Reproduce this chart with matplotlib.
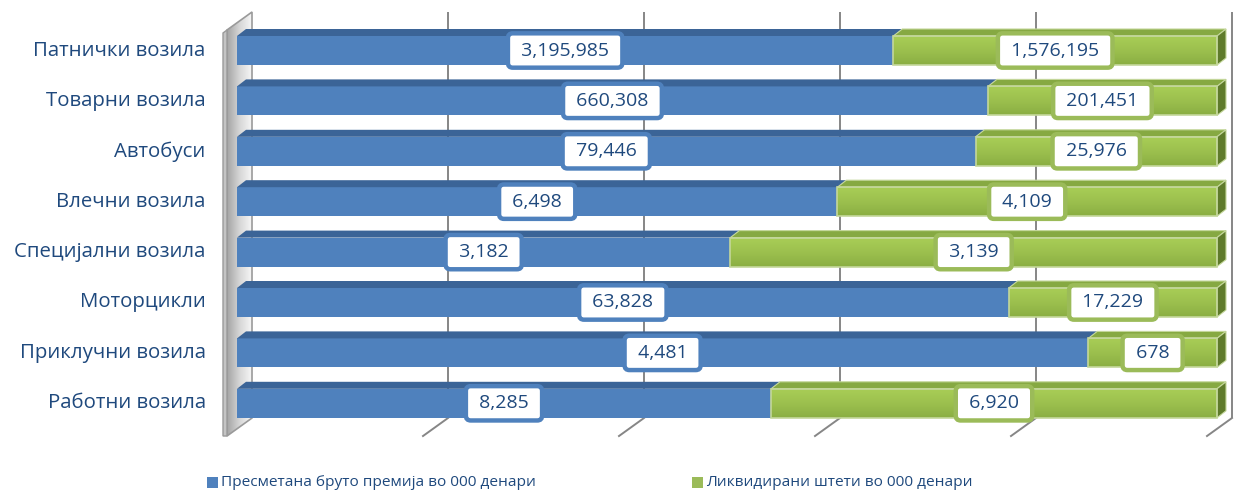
import numpy as np
import matplotlib.pyplot as plt
from matplotlib.patches import Polygon, Rectangle
from matplotlib.colors import LinearSegmentedColormap

plt.rcParams['font.family'] = ['Open Sans', 'DejaVu Sans']

# --- data -------------------------------------------------------------
categories = ['Патнички возила', 'Товарни возила', 'Автобуси', 'Влечни возила',
              'Специјални возила', 'Моторцикли', 'Приклучни возила', 'Работни возила']
premium = [3195985, 660308, 79446, 6498, 3182, 63828, 4481, 8285]
claims = [1576195, 201451, 25976, 4109, 3139, 17229, 678, 6920]
series_names = ['Пресметана бруто премија во 000 денари',
                'Ликвидирани штети во 000 денари']
grid_ticks = [0, 20, 40, 60, 80, 100]

# --- style ------------------------------------------------------------
BLUE = '#4F81BD'
BLUE_TOP = '#3B6497'
GREEN = '#9BBB59'
GREEN_TOP = '#86A942'
GREEN_END = '#5F7B2B'
GREEN_EDGE = '#C4D79B'
TEXT = '#1F497D'
GRID = '#868686'

W, H = 1234, 492
fig = plt.figure(figsize=(W / 100, H / 100), dpi=100)
ax = fig.add_axes([237 / W, 0, 980 / W, 1])
ax.set_xlim(0, 100)
ax.set_ylim(8.76, -1.002)
ax.axis('off')


def add(patch):
    patch.set_clip_on(False)
    ax.add_patch(patch)
    return patch


PX = 100 / 980          # percent per pixel
PY = 1 / 50.4           # rows per pixel

# perspective offsets
bar_dx, bar_dy = 9 * PX, 7 * PY
back_dx = 15 * PX
front_dx = -10 * PX
back_top = -0.764
back_bottom = 7.292
front_bottom = back_bottom + 18 * PY
front_top = back_top + 18 * PY
half_h = 14.5 * PY

# --- side wall --------------------------------------------------------
wall = add(Polygon([(front_dx, front_top), (back_dx, back_top),
                    (back_dx, back_bottom), (front_dx, front_bottom)],
                   closed=True, fc='none', ec='#9A9A9A', lw=1.2, zorder=2))
grad = np.linspace(0, 1, 64).reshape(1, -1)
im = ax.imshow(grad, cmap=LinearSegmentedColormap.from_list(
    'wall', ['#A4A4A4', '#D6D6D6', '#F6F6F6']),
    extent=(front_dx, back_dx, back_bottom + 1, back_top - 1),
    aspect='auto', zorder=1, interpolation='bilinear')
im.set_clip_path(wall)
im.set_clip_box(fig.bbox)
# wall thickness
add(Polygon([(front_dx - 4 * PX, front_top + 3 * PY), (front_dx, front_top),
             (front_dx, front_bottom), (front_dx - 4 * PX, front_bottom)],
            closed=True, fc='#C4C4C4', ec='#9A9A9A', lw=1, zorder=2))

# --- grid on back wall and floor ---------------------------------------
for t in grid_ticks[1:]:
    ax.plot([t + back_dx, t + back_dx], [back_top, back_bottom],
            color=GRID, lw=1.4, zorder=1, solid_capstyle='butt', clip_on=False)
    ax.plot([t + back_dx, t + front_dx], [back_bottom, front_bottom],
            color=GRID, lw=1.4, zorder=1, clip_on=False)

# --- 3D stacked bars ---------------------------------------------------
green_grad = np.linspace(0, 1, 64).reshape(-1, 1)
green_cmap = LinearSegmentedColormap.from_list('g', ['#A8CD56', '#9CC04E', '#8AAE43'])

for i, (p, c) in enumerate(zip(premium, claims)):
    total = p + c
    share = p / total * 100
    top = i - half_h
    bot = i + half_h

    # blue segment
    add(Rectangle((0, top), share, 2 * half_h, fc=BLUE, ec='none', zorder=3))
    add(Polygon([(0, top), (bar_dx, top - bar_dy),
                 (share + bar_dx, top - bar_dy), (share, top)],
                closed=True, fc=BLUE_TOP, ec='none', zorder=3))

    # green segment
    ax.imshow(green_grad, cmap=green_cmap, extent=(share, 100, bot, top),
              aspect='auto', zorder=4, interpolation='bilinear')
    add(Rectangle((share, top), 100 - share, 2 * half_h, fc='none',
                  ec=GREEN_EDGE, lw=1.2, zorder=4.5))
    add(Polygon([(share, top), (share + bar_dx, top - bar_dy),
                 (100 + bar_dx, top - bar_dy), (100, top)],
                closed=True, fc=GREEN_TOP, ec=GREEN_EDGE, lw=0.8, zorder=4))
    add(Polygon([(100, top), (100 + bar_dx, top - bar_dy),
                 (100 + bar_dx, bot - bar_dy), (100, bot)],
                closed=True, fc=GREEN_END, ec=GREEN_EDGE, lw=0.8, zorder=4))

    # value labels
    ax.text(share / 2, i, f' {p:,} ', ha='center', va='center', fontsize=14,
            color=TEXT, zorder=6,
            bbox=dict(boxstyle='round,pad=0.42,rounding_size=0.25', fc='white',
                      ec=BLUE, lw=3.2))
    ax.text((share + 100) / 2, i, f' {c:,} ', ha='center', va='center', fontsize=14,
            color=TEXT, zorder=6,
            bbox=dict(boxstyle='round,pad=0.42,rounding_size=0.25', fc='white',
                      ec=GREEN, lw=3.2))

    # category label
    ax.text(-3.2, i, categories[i], ha='right', va='center', fontsize=14.7,
            color=TEXT, zorder=6)

ax.set_xlim(0, 100)
ax.set_ylim(8.76, -1.002)

# --- legend -------------------------------------------------------------
for x0, color, name in [(207, BLUE, series_names[0]), (692, GREEN, series_names[1])]:
    fig.patches.append(Rectangle((x0 / W, (H - 488) / H), 11 / W, 11 / H,
                                 transform=fig.transFigure, fc=color, ec='none'))
    fig.text((x0 + 14) / W, (H - 482) / H, name, ha='left', va='center',
             fontsize=11.1, color=TEXT)

fig.savefig('out.png', dpi=100)
